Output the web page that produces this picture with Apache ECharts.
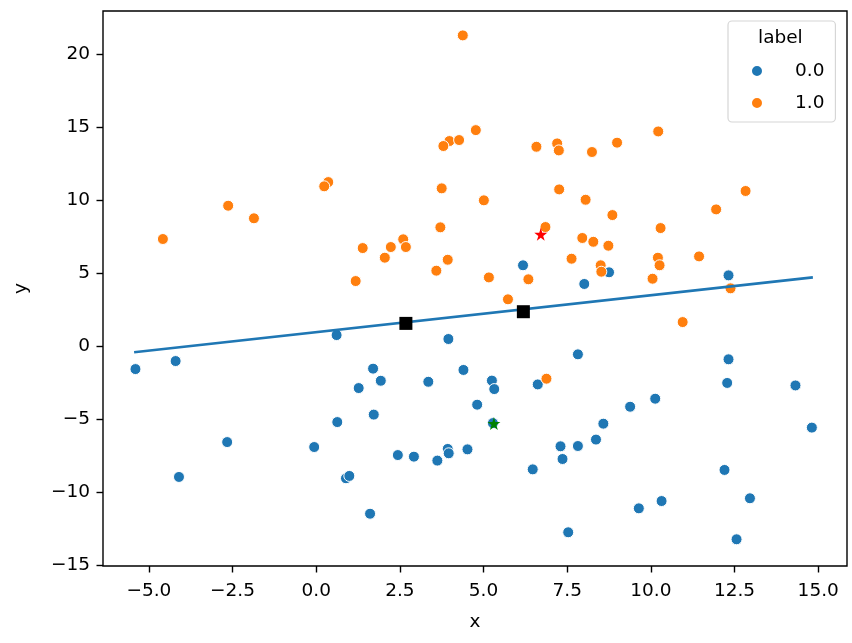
<!DOCTYPE html>
<html>
<head>
<meta charset="utf-8">
<script src="https://cdn.jsdelivr.net/npm/echarts@6/dist/echarts.min.js"></script>
<style>
  html, body { margin: 0; padding: 0; background: #fff; }
  #main { width: 852px; height: 643px; }
</style>
</head>
<body>
<div id="main"></div>
<script>
// label 0.0 points
const blueX = [-5.40, -4.20, 0.61, 3.95, 1.70, 1.93, 1.27, 3.35, 4.40, 1.72, 0.63, -2.66, -0.06, -4.10, 0.89, 0.99,
  2.44, 2.92, 3.62, 3.93, 3.96, 4.52, 1.61, 6.18, 8.75, 8.01, 12.32, 7.82, 12.32, 12.28, 14.32, 5.25, 5.32,
  6.62, 4.81, 10.13, 9.38, 8.58, 14.81, 7.30, 7.82, 8.36, 7.36, 6.47, 12.20, 12.96, 10.32, 9.64, 7.53, 12.56, 5.28];
const blueY = [-1.58, -1.03, 0.75, 0.48, -1.55, -2.38, -2.88, -2.45, -1.64, -4.70, -5.21, -6.58, -6.92, -8.97, -9.06, -8.90,
  -7.47, -7.58, -7.85, -7.05, -7.35, -7.08, -11.49, 5.53, 5.05, 4.25, 4.84, -0.57, -0.91, -2.53, -2.70, -2.37, -2.95,
  -2.63, -4.02, -3.61, -4.16, -5.32, -5.59, -6.87, -6.85, -6.41, -7.74, -8.45, -8.49, -10.43, -10.62, -11.12, -12.76, -13.24, -5.28];

// label 1.0 points
const orangeX = [4.38, -2.63, -1.86, -4.58, 0.36, 0.24, 3.75, 3.98, 3.80, 4.27, 3.71, 1.18, 1.39, 2.05, 2.23, 2.60, 2.68,
  3.59, 3.93, 4.77, 6.58, 7.20, 7.25, 8.24, 8.99, 10.22, 5.01, 7.26, 8.05, 8.85, 12.83, 11.95, 10.29, 6.85, 7.95,
  8.28, 8.73, 7.63, 8.50, 8.52, 10.21, 10.26, 11.44, 5.16, 6.34, 10.05, 12.38, 5.73, 10.95, 6.88];
const orangeY = [21.28, 9.61, 8.75, 7.33, 11.23, 10.94, 10.80, 14.04, 13.70, 14.11, 8.13, 4.45, 6.71, 6.05, 6.78, 7.31, 6.78,
  5.16, 5.91, 14.79, 13.65, 13.88, 13.40, 13.29, 13.93, 14.70, 9.98, 10.73, 10.02, 8.97, 10.62, 9.36, 8.08, 8.15, 7.40,
  7.14, 6.87, 5.98, 5.53, 5.09, 6.05, 5.53, 6.14, 4.70, 4.57, 4.61, 3.95, 3.20, 1.64, -2.24];

// fitted line and extra markers
const lineX = [-5.44, 14.84];
const lineY = [-0.43, 4.70];
const squareX = [2.68, 6.19];
const squareY = [1.55, 2.35];
const redStar = [6.71, 7.65];
const greenStar = [5.31, -5.30];

const xTicks = [-5, -2.5, 0, 2.5, 5, 7.5, 10, 12.5, 15];
const yTicks = [-15, -10, -5, 0, 5, 10, 15, 20];

const zip = (xs, ys) => xs.map((x, i) => [x, ys[i]]);
const minus = s => s.replace('-', '\u2212');

const FONT = 'DejaVu Sans';
const FS = 18.5;
const STAR = 'path://M50,0 L61,35 L98,35 L68,57 L79,91 L50,70 L21,91 L32,57 L2,35 L39,35 Z';

const chart = echarts.init(document.getElementById('main'));

chart.setOption({
  animation: false,
  backgroundColor: '#fff',
  textStyle: { fontFamily: FONT },
  grid: {
    left: 103, right: 5, top: 11, bottom: 77,
    show: true, borderColor: '#000', borderWidth: 1.4, backgroundColor: 'transparent'
  },
  legend: {
    orient: 'vertical',
    left: 728, top: 21,
    padding: [40, 11, 9, 22],
    itemWidth: 12, itemHeight: 12, itemGap: 12,
    borderColor: '#d6d6d6', borderWidth: 1.2, borderRadius: 4,
    backgroundColor: 'rgba(255,255,255,0.8)',
    icon: 'circle',
    textStyle: { fontFamily: FONT, fontSize: FS, color: '#000', lineHeight: 20, padding: [0, 0, 0, 27] },
    data: ['0.0', '1.0']
  },
  graphic: [{
    type: 'text', left: 758, top: 29, z: 100,
    style: { text: 'label', font: FS + 'px "DejaVu Sans"', fill: '#000' }
  }],
  xAxis: {
    type: 'value', min: -6.37, max: 15.86,
    name: 'x', nameLocation: 'middle', nameGap: 47,
    nameTextStyle: { fontFamily: FONT, fontSize: FS, color: '#000' },
    splitLine: { show: false },
    axisLine: { show: false, onZero: false },
    axisTick: { show: true, length: 6.5, lineStyle: { color: '#000', width: 1.4 }, customValues: xTicks },
    axisLabel: {
      fontFamily: FONT, fontSize: FS, color: '#000', margin: 16,
      customValues: xTicks,
      formatter: v => minus(v.toFixed(1))
    }
  },
  yAxis: {
    type: 'value', min: -15.07, max: 22.95,
    name: 'y', nameLocation: 'middle', nameGap: 72,
    nameTextStyle: { fontFamily: FONT, fontSize: FS, color: '#000' },
    splitLine: { show: false },
    axisLine: { show: false, onZero: false },
    axisTick: { show: true, length: 6.5, lineStyle: { color: '#000', width: 1.4 }, customValues: yTicks },
    axisLabel: {
      fontFamily: FONT, fontSize: FS, color: '#000', margin: 13,
      customValues: yTicks,
      formatter: v => minus(String(Math.round(v)))
    }
  },
  series: [
    {
      name: '0.0', type: 'scatter', symbolSize: 11, z: 2,
      itemStyle: { color: '#1f77b4', borderColor: '#fff', borderWidth: 1, opacity: 1 },
      data: zip(blueX, blueY)
    },
    {
      name: '1.0', type: 'scatter', symbolSize: 11, z: 2,
      itemStyle: { color: '#ff7f0e', borderColor: '#fff', borderWidth: 1, opacity: 1 },
      data: zip(orangeX, orangeY)
    },
    {
      type: 'line', showSymbol: false, z: 3,
      lineStyle: { color: '#1f77b4', width: 2.6 },
      data: zip(lineX, lineY)
    },
    {
      type: 'scatter', symbol: 'rect', symbolSize: 13, z: 4,
      itemStyle: { color: '#000', opacity: 1 },
      data: zip(squareX, squareY)
    },
    {
      type: 'scatter', symbol: STAR, symbolSize: 13, z: 4,
      itemStyle: { color: '#ff0000', opacity: 1 },
      data: [redStar]
    },
    {
      type: 'scatter', symbol: STAR, symbolSize: 13, z: 4,
      itemStyle: { color: '#008000', opacity: 1 },
      data: [greenStar]
    }
  ]
});
</script>
</body>
</html>
